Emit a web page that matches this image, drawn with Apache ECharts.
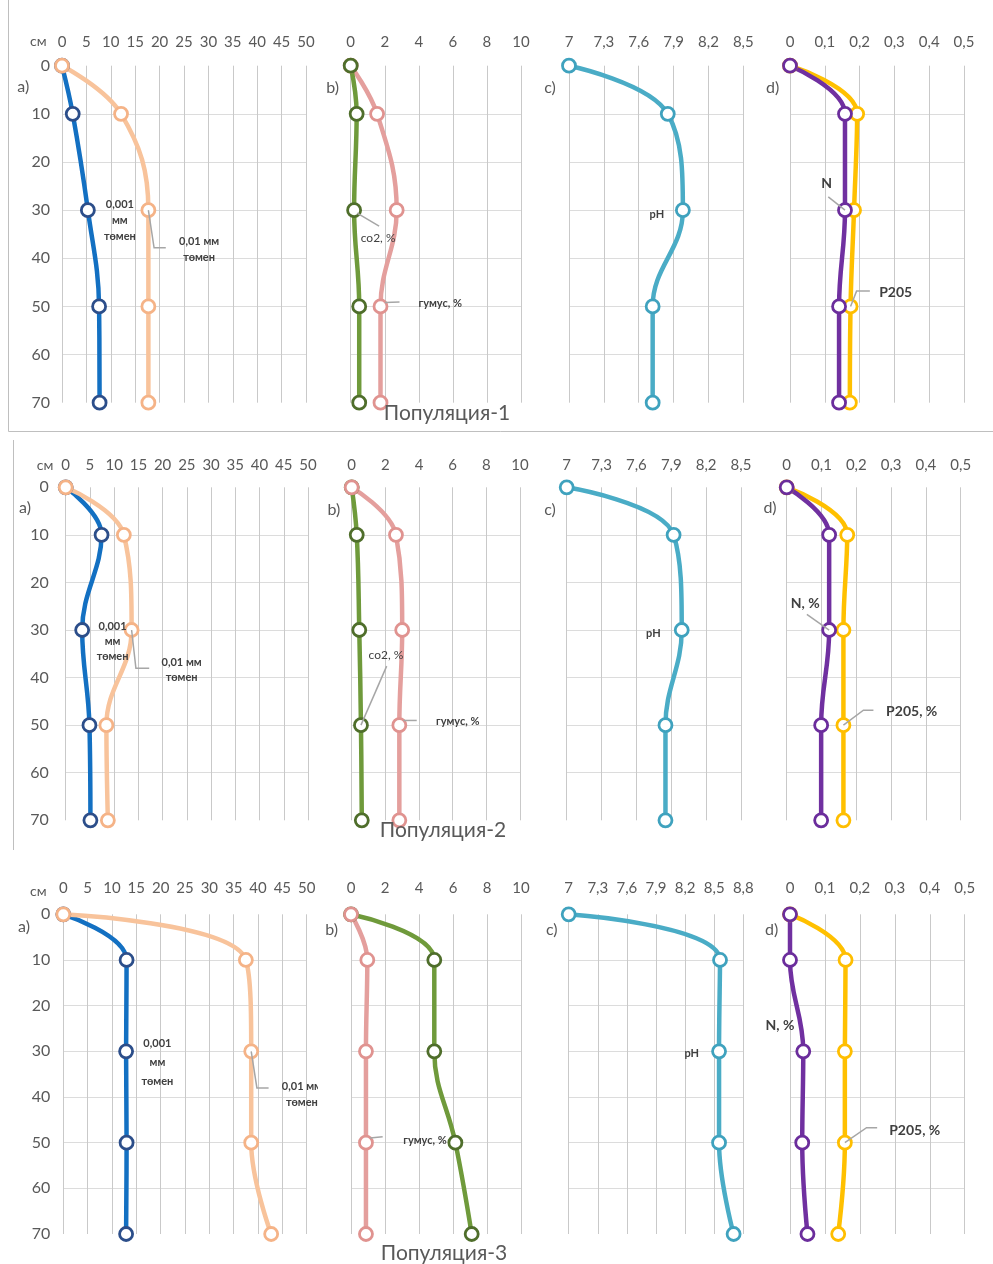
<!DOCTYPE html>
<html>
<head>
<meta charset="utf-8">
<script src="https://cdn.jsdelivr.net/npm/echarts@6/dist/echarts.min.js"></script>
<style>
  html, body { margin: 0; padding: 0; background: #fff; }
  #chart { width: 993px; height: 1264px; }
</style>
</head>
<body>
<div id="chart"></div>
<script>
// Sampling depths, cm
const depthCm = [0, 10, 30, 50, 70];

// Популяция-1
const p1Clay001 = [0, 2.2, 5.3, 7.6, 7.7];
const p1Clay01  = [0, 12.1, 17.7, 17.7, 17.7];
const p1CO2     = [0, 0.35, 0.2, 0.5, 0.5];
const p1Humus   = [0, 1.55, 2.7, 1.75, 1.75];
const p1PH      = [7.0, 7.85, 7.98, 7.72, 7.72];
const p1N       = [0, 0.158, 0.158, 0.141, 0.141];
const p1P2O5    = [0, 0.193, 0.184, 0.174, 0.172];

// Популяция-2
const p2Clay001 = [0, 7.4, 3.4, 4.9, 5.1];
const p2Clay01  = [0, 12.0, 13.6, 8.4, 8.7];
const p2CO2     = [0, 0.3, 0.45, 0.55, 0.6];
const p2Humus   = [0, 2.63, 3.0, 2.83, 2.83];
const p2PH      = [7.0, 7.92, 7.99, 7.85, 7.85];
const p2N       = [0, 0.122, 0.122, 0.099, 0.099];
const p2P2O5    = [0, 0.174, 0.163, 0.163, 0.163];

// Популяция-3
const p3Clay001 = [0, 13.0, 12.9, 13.0, 12.9];
const p3Clay01  = [0, 37.5, 38.6, 38.6, 42.7];
const p3CO2     = [0, 4.9, 4.9, 6.14, 7.1];
const p3Humus   = [0, 0.96, 0.88, 0.88, 0.88];
const p3PH      = [7.0, 8.56, 8.55, 8.55, 8.70];
const p3N       = [0, 0, 0.038, 0.035, 0.05];
const p3P2O5    = [0, 0.159, 0.157, 0.157, 0.138];

// Top axis scales (min, max, step)
const clayScale   = [0, 50, 5];
const carbScale   = [0, 10, 2];
const phScale     = [7, 8.5, 0.3];
const phScaleWide = [7, 8.8, 0.3];
const nutScale    = [0, 0.5, 0.1];
const depthScale  = [0, 70, 10];

const rowTitles   = ['Популяция-1', 'Популяция-2', 'Популяция-3'];
const panelLetters = ['a)', 'b)', 'c)', 'd)'];

// line colour / marker border colour per indicator
const styles = {
  clay001: { line: '#1370C2', border: '#2C4E8A' },
  clay01:  { line: '#F8C39B', border: '#F5B387' },
  co2:     { line: '#6F9A3B', border: '#4F6E2B' },
  humus:   { line: '#E49F9D', border: '#E09390' },
  ph:      { line: '#4AACC6', border: '#3FA2BE' },
  n:       { line: '#7030A0', border: '#6B2D9C' },
  p:       { line: '#FFC000', border: '#FFBE00' }
};

// grid geometry: [left, right] per panel, [top, bottom] per row
const rowsY = [[65.7, 402.7], [487.3, 820.3], [914.3, 1234]];
const colsX = [
  [[62, 306], [350.7, 521], [569, 743.3], [790, 964]],
  [[65.7, 308], [351.7, 520], [566.7, 741], [786.7, 960.7]],
  [[63.3, 306.7], [351, 521], [568.7, 743.3], [790, 964.7]]
];
const xLabelMargin = [16, 15, 19];
const yLabelMargin = [12, 17, 13];

// panels in row-major order; series listed bottom-to-top
const panels = [
  { scale: clayScale, series: [['clay001', p1Clay001], ['clay01', p1Clay01]] },
  { scale: carbScale, series: [['humus', p1Humus], ['co2', p1CO2]] },
  { scale: phScale,   series: [['ph', p1PH]] },
  { scale: nutScale,  series: [['p', p1P2O5], ['n', p1N]] },
  { scale: clayScale, series: [['clay001', p2Clay001], ['clay01', p2Clay01]] },
  { scale: carbScale, series: [['co2', p2CO2], ['humus', p2Humus]] },
  { scale: phScale,   series: [['ph', p2PH]] },
  { scale: nutScale,  series: [['p', p2P2O5], ['n', p2N]] },
  { scale: clayScale, series: [['clay001', p3Clay001], ['clay01', p3Clay01]] },
  { scale: carbScale, series: [['co2', p3CO2], ['humus', p3Humus]] },
  { scale: phScaleWide, series: [['ph', p3PH]] },
  { scale: nutScale,  series: [['p', p3P2O5], ['n', p3N]] }
];

const FONT = 'Lato, "Open Sans", sans-serif';
const fmt = v => String(+(+v).toFixed(2)).replace('.', ',');

const grids = [], xAxes = [], yAxes = [], series = [];
panels.forEach((pn, i) => {
  const row = Math.floor(i / 4), col = i % 4;
  const [l, r] = colsX[row][col];
  const [t, b] = rowsY[row];
  grids.push({ left: l, top: t, width: r - l, height: b - t, containLabel: false, outerBoundsMode: 'none' });
  xAxes.push({
    type: 'value', gridIndex: i, position: 'top',
    min: pn.scale[0], max: pn.scale[1], interval: pn.scale[2],
    axisLine: { show: false }, axisTick: { show: false },
    axisLabel: { color: '#595959', fontSize: 15, fontFamily: FONT, margin: xLabelMargin[row], formatter: fmt, showMinLabel: true, showMaxLabel: true },
    splitLine: { show: true, lineStyle: { color: '#C9C9C9', width: 1 } }
  });
  yAxes.push({
    type: 'value', gridIndex: i, inverse: true,
    min: depthScale[0], max: depthScale[1], interval: depthScale[2],
    axisLine: { show: false }, axisTick: { show: false },
    axisLabel: { show: col === 0, color: '#595959', fontSize: 16, fontFamily: FONT, margin: yLabelMargin[row] },
    splitLine: { show: true, showMinLine: false, showMaxLine: false, lineStyle: { color: '#DCDCDC', width: 1 } }
  });
  pn.series.forEach(([key, vals]) => {
    const st = styles[key];
    series.push({
      type: 'line', xAxisIndex: i, yAxisIndex: i,
      data: vals.map((v, k) => [v, depthCm[k]]),
      smooth: 0.4,
      symbol: 'circle', symbolSize: 13,
      lineStyle: { color: st.line, width: 4.5 },
      itemStyle: { color: '#fff', borderColor: st.border, borderWidth: 2.8 },
      emphasis: { disabled: true },
      silent: true
    });
  });
});

const chart = echarts.init(document.getElementById('chart'), null, { renderer: 'canvas' });
chart.setOption({
  animation: false,
  backgroundColor: '#fff',
  grid: grids, xAxis: xAxes, yAxis: yAxes, series: series
});

// annotations attached to data points: offsets from the point, optional leader path
const annotations = [
  { g: 0, at: [p1Clay001, 2], text: '0,001\nмм\nтөмен', dx: 32, dy: 10, lh: 16, font: 'bold 11px', align: 'center' },
  { g: 0, at: [p1Clay01, 2], text: '0,01 мм\nтөмен', dx: 50.7, dy: 39, lh: 16, font: 'bold 11px', align: 'center', lead: [[0, 0], [5.7, 37.7], [17.4, 37.7]] },
  { g: 1, at: [p1CO2, 2], text: 'со2, %', dx: 24, dy: 28.4, font: '12px', align: 'center', lead: [[3, 3], [25, 16]] },
  { g: 1, at: [p1Humus, 3], text: 'гумус, %', dx: 38, dy: -2.7, font: 'bold 11px', align: 'left', lead: [[4.5, -4], [19, -4.5]] },
  { g: 2, at: [p1PH, 2], text: 'pH', dx: -26, dy: 4, font: 'bold 11px', align: 'center' },
  { g: 3, at: [p1N, 2], text: 'N', dx: -18.3, dy: -26.7, font: 'bold 14px', align: 'center', lead: [[0, 0], [-16.7, -13.3]] },
  { g: 3, at: [p1P2O5, 3], text: 'P205', dx: 28.6, dy: -14, font: 'bold 14px', align: 'left', lead: [[0, 0], [6, -15.3], [19.3, -15.3]] },

  { g: 4, at: [p2Clay001, 2], text: '0,001\nмм\nтөмен', dx: 30.4, dy: 11, lh: 15, font: 'bold 11px', align: 'center' },
  { g: 4, at: [p2Clay01, 2], text: '0,01 мм\nтөмен', dx: 50, dy: 40, lh: 15, font: 'bold 11px', align: 'center', lead: [[0, 0], [4.3, 38.3], [17.6, 38.3]] },
  { g: 5, at: [p2CO2, 3], text: 'со2, %', dx: 25, dy: -70, font: '12px', align: 'center', lead: [[0, 0], [25.7, -59]] },
  { g: 5, at: [p2Humus, 3], text: 'гумус, %', dx: 36.7, dy: -4, font: 'bold 11px', align: 'left', lead: [[4, -4.7], [17.4, -4.7]] },
  { g: 6, at: [p2PH, 2], text: 'pH', dx: -28.4, dy: 3.3, font: 'bold 11px', align: 'center' },
  { g: 7, at: [p2N, 2], text: 'N, %', dx: -24, dy: -26.4, font: 'bold 14px', align: 'center', lead: [[0, 0], [-22.3, -15.7]] },
  { g: 7, at: [p2P2O5, 3], text: 'P205, %', dx: 42.7, dy: -14, font: 'bold 14px', align: 'left', lead: [[0, 0], [20, -15], [30, -15]] },

  { g: 8, at: [p3Clay001, 2], text: '0,001\nмм\nтөмен', dx: 31.3, dy: 11.5, lh: 19, font: 'bold 11px', align: 'center' },
  { g: 8, at: [p3Clay01, 2], text: '0,01 мм\nтөмен', dx: 50.7, dy: 43, lh: 16, font: 'bold 11px', align: 'center', lead: [[0, 0], [5.7, 36.6], [17.4, 36.6]] },
  { g: 9, at: [p3Humus, 3], text: 'гумус, %', dx: 37.3, dy: -2.7, font: 'bold 11px', align: 'left', lead: [[4, -4.7], [16.7, -6]] },
  { g: 10, at: [p3PH, 2], text: 'pH', dx: -27.3, dy: 2.6, font: 'bold 11px', align: 'center' },
  { g: 11, at: [p3N, 2], text: 'N, %', dx: -23.3, dy: -25.7, font: 'bold 14px', align: 'center' },
  { g: 11, at: [p3P2O5, 3], text: 'P205, %', dx: 44.3, dy: -11.7, font: 'bold 14px', align: 'left', lead: [[0, 0], [21.7, -15], [32.3, -15]] }
];

const graphics = [];
const addText = (x, y, text, font, color, align, lh, z) => {
  graphics.push({
    type: 'text', x: x, y: y, z: z || 20, silent: true,
    style: {
      text: text, fill: color, font: font,
      align: align, textAlign: align,
      verticalAlign: 'middle', textVerticalAlign: 'middle',
      lineHeight: lh || undefined
    }
  });
};

annotations.forEach(a => {
  const [arr, k] = a.at;
  const p = chart.convertToPixel({ gridIndex: a.g }, [arr[k], depthCm[k]]);
  if (a.lead) {
    graphics.push({
      type: 'polyline', z: 19, silent: true,
      shape: { points: a.lead.map(([dx, dy]) => [p[0] + dx, p[1] + dy]) },
      style: { stroke: '#A6A6A6', lineWidth: 1.5, fill: null }
    });
  }
  addText(p[0] + a.dx, p[1] + a.dy, a.text, a.font + ' ' + FONT, '#404040', a.align, a.lh);
});

// the third row's long label is cut at the edge of its panel
graphics.push({ type: 'rect', z: 25, silent: true, shape: { x: 318, y: 1075, width: 26, height: 40 }, style: { fill: '#fff' } });

// depth unit, panel letters and population titles
const unitPos = [[38.3, 41.7], [45, 465], [38.3, 891.7]];
const letterPos = [
  [[23.3, 86.7], [332.7, 88.3], [550, 88.3], [772.7, 88.3]],
  [[25, 508.3], [334, 510], [550, 510], [770, 508.3]],
  [[24, 926.7], [331.7, 930], [551.7, 930], [771.7, 930]]
];
const titlePos = [[447, 413.3], [443, 830], [444, 1253.3]];
rowTitles.forEach((title, r) => {
  addText(unitPos[r][0], unitPos[r][1], 'см', '14px ' + FONT, '#595959', 'center');
  panelLetters.forEach((lt, c) => addText(letterPos[r][c][0], letterPos[r][c][1], lt, '16px ' + FONT, '#595959', 'center'));
  addText(titlePos[r][0], titlePos[r][1], title, '21px ' + FONT, '#595959', 'center', null, 30);
});

// frame lines around the first two rows
const frame = [
  [[8.5, 0], [8.5, 431.5]],
  [[8.5, 431.5], [993, 431.5]],
  [[13.5, 440], [13.5, 850]]
];
frame.forEach(pts => graphics.push({ type: 'polyline', z: 1, silent: true, shape: { points: pts }, style: { stroke: '#BFBFBF', lineWidth: 1, fill: null } }));

chart.setOption({ graphic: { elements: graphics } });
</script>
</body>
</html>
